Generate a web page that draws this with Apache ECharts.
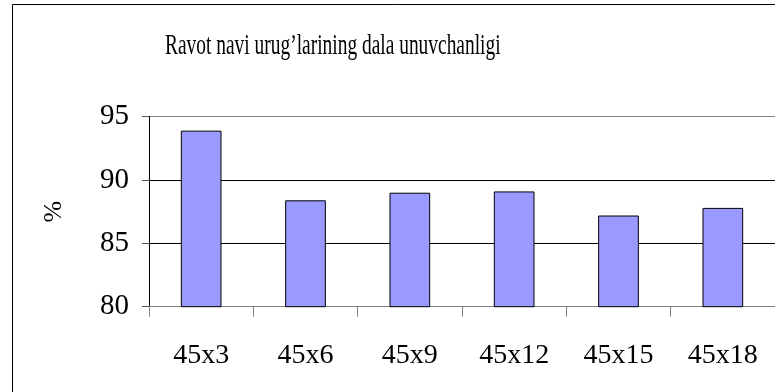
<!DOCTYPE html>
<html>
<head>
<meta charset="utf-8">
<script src="https://cdn.jsdelivr.net/npm/echarts@6/dist/echarts.min.js"></script>
<style>
  html, body { margin: 0; padding: 0; background: #fff; }
  #chart { width: 775px; height: 392px; }
</style>
</head>
<body>
<div id="chart"></div>
<script>
// Field germination of "Ravot" seeds by planting scheme
const chartTitle = 'Ravot navi urug’larining dala unuvchanligi';
const categories = ['45x3', '45x6', '45x9', '45x12', '45x15', '45x18'];
const germination = [93.9, 88.4, 89.0, 89.1, 87.2, 87.8];
const yTicks = { min: 80, max: 95, step: 5 };
const yName = '%';

const serif = '"Liberation Serif", "Times New Roman", serif';

const chart = echarts.init(document.getElementById('chart'), null, { renderer: 'canvas' });

chart.setOption({
  animation: false,
  backgroundColor: '#ffffff',
  grid: { left: 149, top: 116.7, bottom: 85.3, right: -6, containLabel: false },
  graphic: [
    {
      type: 'rect',
      shape: { x: 12.5, y: 4.5, width: 800, height: 420 },
      style: { fill: 'none', stroke: '#000', lineWidth: 1 },
      silent: true, z: 0
    },
    {
      type: 'text',
      x: 165, y: 32,
      scaleX: 0.67,
      style: { text: chartTitle, fontFamily: serif, fontSize: 29, fill: '#000' },
      silent: true
    }
  ],
  xAxis: {
    type: 'category',
    data: categories,
    boundaryGap: true,
    axisLine: { show: true, lineStyle: { color: '#808080', width: 1 } },
    axisTick: { show: true, length: 10, lineStyle: { color: '#808080' } },
    axisLabel: { margin: 35, fontFamily: serif, fontSize: 28, color: '#000' },
    splitLine: { show: false }
  },
  yAxis: {
    type: 'value',
    min: yTicks.min, max: yTicks.max, interval: yTicks.step,
    name: yName,
    nameLocation: 'middle',
    nameGap: 82,
    nameTextStyle: { fontFamily: serif, fontSize: 26, color: '#000' },
    axisLine: { show: true, lineStyle: { color: '#000', width: 1 } },
    axisTick: { show: true, length: 7, lineStyle: { color: '#555' } },
    axisLabel: { margin: 20, fontFamily: serif, fontSize: 29, color: '#000' },
    splitLine: { show: true, lineStyle: { color: ['#808080', '#000', '#000', '#808080'], width: 1 } }
  },
  series: [{
    type: 'bar',
    data: germination,
    barWidth: '39%',
    itemStyle: { color: '#9999FF', borderColor: '#000', borderWidth: 1 }
  }]
});
</script>
</body>
</html>
